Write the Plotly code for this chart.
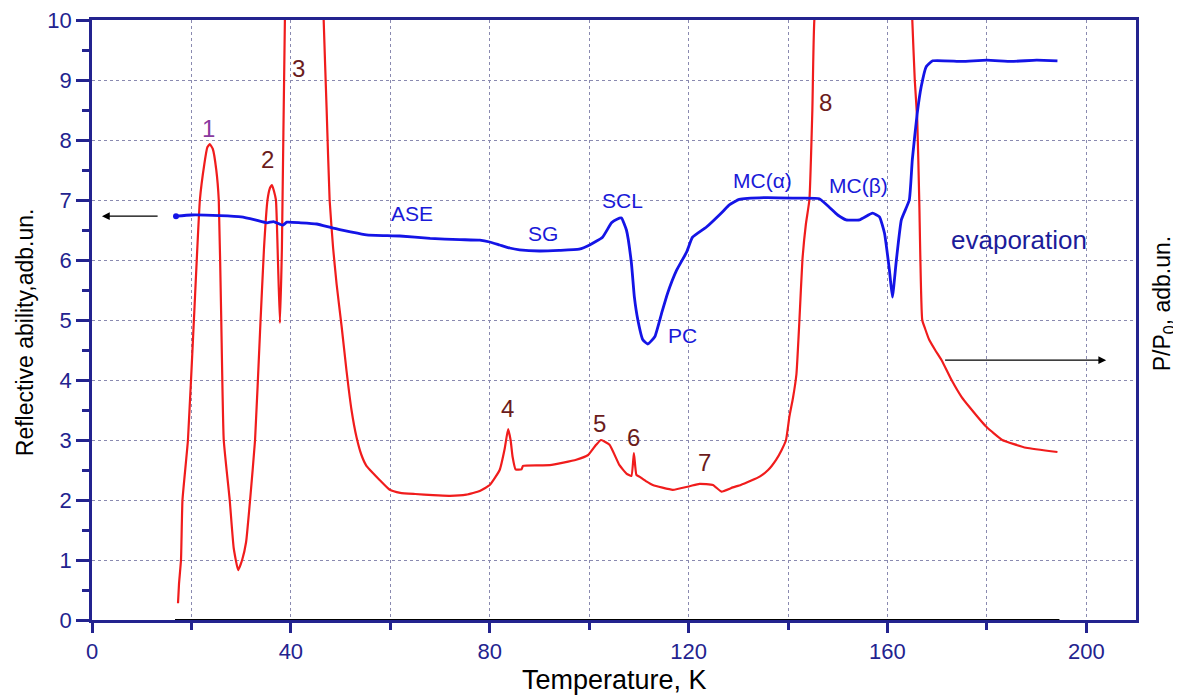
import plotly.graph_objects as go

# Red curve: P/P0 (pressure ratio)
red_T = [17.3, 17.5, 17.9, 18.2, 19.3, 20.5, 21.7, 22.6, 23.2, 23.7, 24.3, 25.0, 25.5, 26.0, 26.5, 27.7, 28.5, 29.4,
         30.2, 31.0, 31.8, 32.8, 33.8, 34.6, 35.3, 35.8, 36.2, 36.6, 37.0, 37.4, 37.8, 38.2, 38.8, 40.0, 42.0, 44.0,
         46.0, 46.6, 47.2, 47.8, 48.5, 49.2, 50.2, 51.2, 52.2, 53.2, 54.2, 55.2, 56.5, 57.9, 59.9, 62.0, 65.0, 68.6,
         72.0, 75.3, 78.0, 80.0, 82.0, 83.0, 83.7, 84.2, 84.6, 85.2, 86.4, 86.7, 92.1, 97.4, 99.8, 101.4, 102.4,
         104.1, 106.1, 107.5, 108.5, 109.0, 109.5, 110.1, 111.5, 112.8, 116.8, 120.2, 122.2, 124.9, 126.6, 128.9,
         130.5, 132.5, 134.3, 136.0, 137.6, 138.7, 139.6, 140.3, 141.0, 141.7, 142.3, 142.9, 143.6, 144.3, 144.9,
         145.3, 150.0, 155.0, 160.0, 164.6, 165.0, 165.5, 166.0, 166.4, 167.0, 167.6, 168.4, 169.6, 170.9, 172.9,
         174.9, 176.5, 179.9, 183.1, 187.9, 194.2]
red_V = [0.28, 0.6, 1.0, 2.0, 3.0, 5.0, 7.0, 7.6, 7.88, 7.93, 7.85, 7.5, 7.0, 5.0, 3.0, 2.0, 1.2, 0.83,
         1.0, 1.3, 2.0, 3.0, 4.8, 6.2, 7.0, 7.2, 7.25, 7.15, 7.0, 6.0, 4.95, 6.2, 10.0, 14.0, 16.0, 15.0,
         12.0, 10.0, 8.5, 7.0, 6.2, 5.6, 4.9, 4.15, 3.5, 3.05, 2.75, 2.57, 2.45, 2.33, 2.17, 2.12, 2.1, 2.08,
         2.07, 2.09, 2.15, 2.25, 2.5, 2.85, 3.18, 3.0, 2.72, 2.51, 2.51, 2.57, 2.58, 2.67, 2.75, 2.92, 3.0,
         2.92, 2.58, 2.44, 2.4, 2.78, 2.42, 2.39, 2.31, 2.25, 2.17, 2.23, 2.27, 2.25, 2.14, 2.21,
         2.25, 2.32, 2.39, 2.5, 2.67, 2.83, 3.0, 3.4, 3.7, 4.1, 5.0, 6.0, 6.6, 7.0, 8.5,
         10.0, 14.0, 16.0, 15.0, 11.0, 10.0, 9.0, 8.33, 7.0, 5.0, 4.85, 4.67, 4.5, 4.33, 4.0,
         3.72, 3.55, 3.22, 3.0, 2.87, 2.8]

# Blue curve: reflective ability
blue_T = [16.9, 20.0, 25.7, 30.0, 32.8, 35.2, 36.5, 38.4, 39.2, 42.0, 45.2, 48.5, 52.0, 55.2, 61.9, 68.0, 74.0,
          78.0, 80.0, 82.0, 84.0, 86.0, 90.0, 94.0, 98.0, 100.1, 102.7, 104.5, 105.6, 106.5, 107.5, 108.5, 109.1,
          109.8, 110.8, 111.8, 113.2, 114.6, 115.8, 117.6, 119.6, 120.8, 123.6, 126.8, 128.2, 130.2, 135.6, 142.3,
          146.3, 148.3, 150.0, 151.7, 154.4, 157.0, 158.4, 159.4, 160.4, 161.0, 161.8, 162.8, 164.4, 165.0, 166.0,
          166.8, 167.8, 169.1, 175.0, 180.0, 185.0, 190.0, 194.2]
blue_V = [6.73, 6.75, 6.74, 6.72, 6.67, 6.62, 6.64, 6.58, 6.63, 6.62, 6.6, 6.53, 6.47, 6.42, 6.4, 6.36, 6.34,
          6.33, 6.3, 6.25, 6.2, 6.17, 6.15, 6.16, 6.18, 6.25, 6.38, 6.62, 6.68, 6.7, 6.5, 5.95, 5.38,
          5.0, 4.67, 4.6, 4.72, 5.12, 5.45, 5.83, 6.13, 6.38, 6.55, 6.8, 6.92, 7.01, 7.04, 7.03,
          7.02, 6.88, 6.75, 6.67, 6.67, 6.78, 6.72, 6.45, 5.83, 5.38, 6.0, 6.67, 7.0, 7.67, 8.45,
          8.89, 9.22, 9.32, 9.31, 9.33, 9.31, 9.33, 9.32]

# Black baseline trace
base_T = [16.7, 194.6]
base_V = [0.0, 0.0]

# Annotation labels
num_labels = ["1", "2", "3", "4", "5", "6", "7", "8"]
num_T = [23.5, 35.4, 41.6, 83.6, 102.1, 109.0, 123.2, 147.5]
num_V = [8.2, 7.67, 9.2, 3.53, 3.27, 3.05, 2.62, 8.62]

phase_labels = ["ASE", "SG", "SCL", "PC", "MC(α)", "MC(β)", "evaporation"]
phase_T = [64.3, 90.7, 106.7, 118.8, 134.9, 154.2, 186.5]
phase_V = [6.78, 6.45, 7.0, 4.75, 7.33, 7.25, 6.33]

x_ticks = [0, 40, 80, 120, 160, 200]

NAVY = "#23238f"
GRID = "#8a8ab0"
FONT = "Liberation Sans, Arial, sans-serif"

fig = go.Figure()
fig.add_trace(go.Scatter(x=base_T, y=base_V, mode="lines",
                         line=dict(color="black", width=2), hoverinfo="skip", cliponaxis=False))
fig.add_trace(go.Scatter(x=red_T, y=red_V, mode="lines",
                         line=dict(color="#f01c1c", width=2.2, shape="spline", smoothing=0.4)))
fig.add_trace(go.Scatter(x=blue_T, y=blue_V, mode="lines",
                         line=dict(color="#1414e6", width=2.8, shape="spline", smoothing=0.4)))
fig.add_trace(go.Scatter(x=blue_T[:1], y=blue_V[:1], mode="markers",
                         marker=dict(color="#1414e6", size=6)))

for lab, t, v in zip(num_labels, num_T, num_V):
    col = "#8a3a9e" if lab == "1" else "#6b1c1c"
    fig.add_annotation(x=t, y=v, text=lab, showarrow=False,
                       font=dict(family=FONT, size=24, color=col))

for lab, t, v in zip(phase_labels, phase_T, phase_V):
    sz = 26 if lab == "evaporation" else 21
    col = "#1c1c9a" if lab == "evaporation" else "#1a1ad8"
    fig.add_annotation(x=t, y=v, text=lab, showarrow=False,
                       font=dict(family=FONT, size=sz, color=col))

# arrows
fig.add_annotation(x=2.0, y=6.73, ax=13.5, ay=6.73, xref="x", yref="y", axref="x", ayref="y",
                   showarrow=True, arrowhead=2, arrowsize=1.2, arrowwidth=1.3, arrowcolor="black", text="")
fig.add_annotation(x=204.0, y=4.33, ax=171.3, ay=4.33, xref="x", yref="y", axref="x", ayref="y",
                   showarrow=True, arrowhead=2, arrowsize=1.2, arrowwidth=1.3, arrowcolor="black", text="")

# axis titles
fig.add_annotation(xref="paper", yref="paper", x=1.026, y=0.528, text="P/P<sub>0</sub>, adb.un.",
                   textangle=-90, showarrow=False, xanchor="center", yanchor="middle",
                   font=dict(family=FONT, size=23, color="black"))
fig.add_annotation(xref="paper", yref="paper", x=-0.064, y=0.48, text="Reflective ability,adb.un.",
                   textangle=-90, showarrow=False, xanchor="center", yanchor="middle",
                   font=dict(family=FONT, size=23, color="black"))
fig.add_annotation(xref="paper", yref="paper", x=0.5, y=-0.1, text="Temperature, K",
                   showarrow=False, xanchor="center", yanchor="middle",
                   font=dict(family=FONT, size=27, color="black"))

# page body has an 8px default margin, so the figure is sized and placed to compensate
fig.update_layout(
    width=1173, height=687,
    margin=dict(l=84, r=45, t=12, b=75),
    plot_bgcolor="white", paper_bgcolor="white",
    showlegend=False,
    font=dict(family=FONT, size=21, color=NAVY),
)
fig.update_xaxes(
    range=[0, 210], tickvals=x_ticks, showline=True, linecolor=NAVY, linewidth=2.5, mirror=True,
    ticks="outside", ticklen=10, tickwidth=2.5, tickcolor=NAVY, automargin=False,
    showgrid=True, gridcolor=GRID, griddash="dot", gridwidth=1,
    minor=dict(dtick=20, tick0=0, ticks="outside", ticklen=7, tickwidth=2.5, tickcolor=NAVY,
               showgrid=True, gridcolor=GRID, griddash="dot", gridwidth=1),
    tickfont=dict(family=FONT, size=22, color=NAVY),
    zeroline=False,
)
fig.update_yaxes(
    range=[0, 10], dtick=1, tick0=0, showline=True, linecolor=NAVY, linewidth=2.5, mirror=True,
    ticks="outside", ticklen=13, tickwidth=2.5, tickcolor=NAVY, automargin=False,
    ticklabeloverflow="allow",
    showgrid=True, gridcolor=GRID, griddash="dot", gridwidth=1,
    minor=dict(dtick=0.5, tick0=0, ticks="outside", ticklen=7, tickwidth=2.5, tickcolor=NAVY, showgrid=False),
    tickfont=dict(family=FONT, size=22, color=NAVY),
    zeroline=False,
)

fig.write_html("out.html")
